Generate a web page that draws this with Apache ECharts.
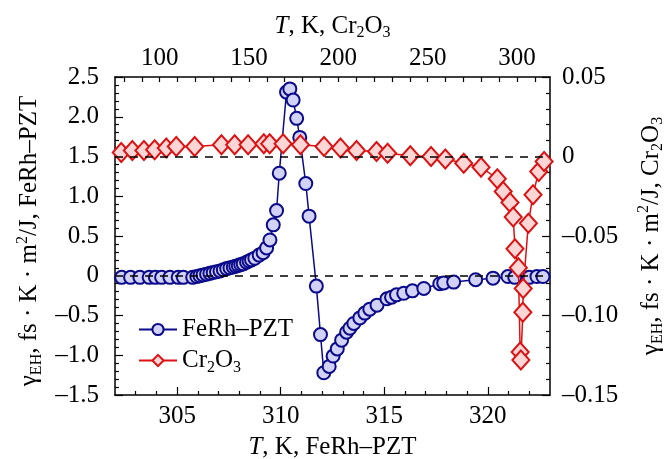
<!DOCTYPE html>
<html>
<head>
<meta charset="utf-8">
<script src="https://cdn.jsdelivr.net/npm/echarts@6/dist/echarts.min.js"></script>
<style>html,body{margin:0;padding:0;background:#fff}#c{width:672px;height:459px}</style>
</head>
<body>
<div id="c"></div>
<script>
// FeRh–PZT: temperature (K, bottom axis) and gamma_EH (left axis)
var feT = [302.32,302.75,303.2,303.65,303.95,304.25,304.65,305.05,305.3,305.75,305.95,306.1,306.25,306.42,306.58,306.74,306.9,307.07,307.23,307.39,307.55,307.71,307.83,307.95,308.07,308.19,308.35,308.47,308.59,308.75,308.96,309.15,309.32,309.48,309.64,309.8,309.93,310.28,310.44,310.6,310.77,310.92,311.21,311.37,311.72,311.92,312.08,312.34,312.53,312.73,312.94,313.18,313.34,313.53,313.82,314.06,314.3,314.65,315.13,315.35,315.59,315.94,316.36,316.91,317.68,317.87,318.35,319.41,320.25,320.97,321.3,322.0,322.37,322.66];
var feG = [-0.02,-0.02,-0.02,-0.02,-0.02,-0.02,-0.02,-0.02,-0.02,-0.02,-0.01,0.0,0.01,0.02,0.03,0.04,0.05,0.06,0.075,0.09,0.1,0.11,0.12,0.13,0.14,0.15,0.17,0.185,0.2,0.22,0.26,0.29,0.35,0.45,0.64,0.82,1.29,2.31,2.35,2.21,1.98,1.74,1.16,0.75,-0.13,-0.74,-1.22,-1.14,-1.01,-0.92,-0.81,-0.71,-0.66,-0.6,-0.53,-0.47,-0.42,-0.37,-0.29,-0.27,-0.24,-0.22,-0.19,-0.16,-0.1,-0.09,-0.08,-0.05,-0.03,-0.01,-0.02,-0.02,-0.01,-0.01];
// Cr2O3: temperature (K, top axis) and gamma_EH (right axis)
var crT = [78.5,84.7,91.2,97.2,103.7,109.3,119.6,134.6,142.0,149.5,158.3,161.6,169.1,178.8,192.0,201.2,210.2,221.4,227.6,240.3,251.9,259.9,270.2,279.9,289.0,292.3,296.1,297.9,298.9,300.8,301.8,302.2,303.3,303.5,306.4,309.0,312.2,315.2];
var crG = [0.0025,0.0038,0.0038,0.0042,0.0053,0.0063,0.0063,0.0074,0.0074,0.0074,0.008,0.008,0.008,0.0074,0.0063,0.0053,0.0038,0.0031,0.0021,0.0004,0.0,-0.0016,-0.0042,-0.0067,-0.014,-0.022,-0.029,-0.038,-0.058,-0.07,-0.123,-0.128,-0.098,-0.083,-0.042,-0.024,-0.0094,-0.0031];
// axis ticks / labels
var bottomLabels = [305,310,315,320];
var bottomMinor = [303,304,306,307,308,309,311,312,313,314,316,317,318,319,321,322];
var topLabels = [100,150,200,250,300];
var topTicks = [80,90,100,110,120,130,140,150,160,170,180,190,200,210,220,230,240,250,260,270,280,290,300,310];
var refLines = [0, 1.5];

var FF = 'Liberation Serif';
var FS = 25;
function rich() {
  return {
    i: {fontFamily: FF, fontSize: FS, fontStyle: 'italic', color: '#000', lineHeight: 30},
    n: {fontFamily: FF, fontSize: FS, color: '#000', lineHeight: 30},
    s: {fontFamily: FF, fontSize: 16, color: '#000', lineHeight: 16, verticalAlign: 'bottom'},
    p: {fontFamily: FF, fontSize: 16, color: '#000', lineHeight: 16, verticalAlign: 'top'}
  };
}
function dash(v) { return String(v).replace('-', '\u2013'); }
function pairs(a, b) { return a.map(function (v, i) { return [v, b[i]]; }); }

var axisLineStyle = {show: true, onZero: false, lineStyle: {color: '#000', width: 1.5}};
var labelStyle = {fontFamily: FF, fontSize: FS, color: '#000'};

var chart = echarts.init(document.getElementById('c'), null, {renderer: 'canvas'});
chart.setOption({
  animation: false,
  backgroundColor: '#fff',
  grid: {left: 115, right: 122, top: 77, bottom: 64, containLabel: false, outerBoundsMode: 'none'},
  legend: {
    orient: 'vertical', left: 133, top: 312, itemWidth: 38, itemHeight: 14, itemGap: 6,
    data: ['FeRh–PZT', 'Cr2O3'],
    formatter: function (n) { return n === 'Cr2O3' ? '{n|Cr}{s|2}{n|O}{s|3}' : '{n|' + n + '}'; },
    textStyle: {fontFamily: FF, fontSize: FS, color: '#000', rich: rich()}
  },
  xAxis: [
    {type: 'value', position: 'bottom', min: 302, max: 323,
     axisLine: axisLineStyle,
     axisTick: {inside: true, length: 8, lineStyle: {color: '#000', width: 1.2}, customValues: bottomLabels},
     axisLabel: Object.assign({margin: 9, customValues: bottomLabels}, labelStyle),
     splitLine: {show: false},
     name: '{i|T}{n|, K, FeRh–PZT}', nameLocation: 'middle', nameGap: 37,
     nameTextStyle: {rich: rich()}},
    {type: 'value', position: 'top', min: 75, max: 318.5,
     axisLine: axisLineStyle,
     axisTick: {inside: true, length: 5, lineStyle: {color: '#000', width: 1.2}, customValues: topTicks},
     axisLabel: Object.assign({margin: 6, customValues: topLabels}, labelStyle),
     splitLine: {show: false},
     name: '{i|T}{n|, K, Cr}{s|2}{n|O}{s|3}', nameLocation: 'middle', nameGap: 31,
     nameTextStyle: {rich: rich()}},
    {type: 'value', position: 'bottom', min: 302, max: 323,
     axisLine: {show: false, onZero: false},
     axisTick: {inside: true, length: 4, lineStyle: {color: '#000', width: 1.2}, customValues: bottomMinor},
     axisLabel: {show: false}, splitLine: {show: false}}
  ],
  yAxis: [
    {type: 'value', position: 'left', min: -1.5, max: 2.5, interval: 0.5,
     axisLine: axisLineStyle,
     axisTick: {inside: true, length: 8, lineStyle: {color: '#000', width: 1.2}},
     minorTick: {show: true, splitNumber: 5, length: 4, lineStyle: {color: '#000', width: 1.2}},
     axisLabel: Object.assign({margin: 16, formatter: function (v) { return v === 0 ? '0' : dash(v.toFixed(1)); }}, labelStyle),
     splitLine: {show: false}, minorSplitLine: {show: false},
     name: '{n|γ}{s|EH}{n|, fs · K · m}{p|2}{n|/J, FeRh–PZT}', nameLocation: 'middle', nameRotate: 90, nameGap: 65,
     nameTextStyle: {rich: rich(), padding: [0, 10, 0, 0]}},
    {type: 'value', position: 'right', min: -0.15, max: 0.05, interval: 0.05,
     axisLine: axisLineStyle,
     axisTick: {inside: true, length: 8, lineStyle: {color: '#000', width: 1.2}},
     minorTick: {show: true, splitNumber: 5, length: 4, lineStyle: {color: '#000', width: 1.2}},
     axisLabel: Object.assign({margin: 12, formatter: function (v) { return Math.abs(v) < 1e-9 ? '0' : dash(v.toFixed(2)); }}, labelStyle),
     splitLine: {show: false}, minorSplitLine: {show: false},
     name: '{n|γ}{s|EH}{n|, fs · K · m}{p|2}{n|/J, Cr}{s|2}{n|O}{s|3}', nameLocation: 'middle', nameRotate: 90, nameGap: 86,
     nameTextStyle: {rich: rich()}}
  ],
  series: [
    {name: 'FeRh–PZT', type: 'line', xAxisIndex: 0, yAxisIndex: 0,
     data: pairs(feT, feG), symbol: 'circle', symbolSize: 13,
     lineStyle: {color: '#0a0a8a', width: 1.5},
     itemStyle: {color: '#d2d2f7', borderColor: '#0a0a8a', borderWidth: 2},
     z: 3,
     markLine: {silent: true, symbol: 'none', label: {show: false}, animation: false,
       lineStyle: {color: '#000', type: [8, 7], width: 1.5},
       data: refLines.map(function (v) { return {yAxis: v}; })}},
    {name: 'Cr2O3', type: 'line', xAxisIndex: 1, yAxisIndex: 1,
     data: pairs(crT, crG), symbol: 'diamond', symbolSize: [17, 19],
     lineStyle: {color: '#dd1111', width: 1.5},
     itemStyle: {color: '#ffd6d6', borderColor: '#dd1111', borderWidth: 2},
     z: 4}
  ]
});
</script>
</body>
</html>
